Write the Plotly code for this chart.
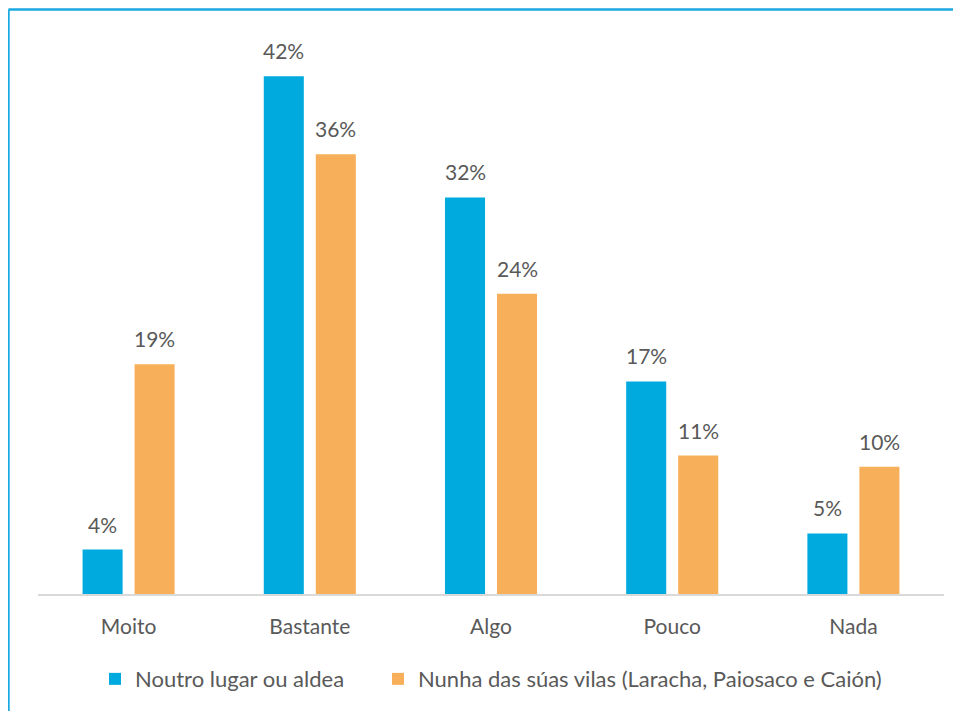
import plotly.graph_objects as go

categories = ["Moito", "Bastante", "Algo", "Pouco", "Nada"]
series_names = ["Noutro lugar ou aldea", "Nunha das súas vilas (Laracha, Paiosaco e Caión)"]
values_a = [0.036, 0.419, 0.321, 0.172, 0.049]
values_b = [0.186, 0.356, 0.243, 0.112, 0.103]
colors = ["#00AADF", "#F8AF59"]

FONT = "Lato, 'Open Sans', sans-serif"
TXT = "#595959"
FS = 21

fig = go.Figure()
for name, vals, col, lg in zip(series_names, [values_a, values_b], colors, ["legend", "legend2"]):
    fig.add_trace(go.Bar(x=categories, y=vals, name=name, legend=lg,
                         marker=dict(color=col, line=dict(width=0))))

annotations = []
for vals, shift in [(values_a, -26), (values_b, 26)]:
    for c, v in zip(categories, vals):
        annotations.append(dict(x=c, y=v, xref="x", yref="y", text=f"{round(v*100):.0f}%",
                                showarrow=False, xshift=shift, yshift=11, yanchor="bottom",
                                font=dict(family=FONT, size=FS, color=TXT)))

leg_common = dict(orientation="h", xanchor="left", y=-0.153, yanchor="middle",
                  font=dict(family=FONT, size=22, color=TXT), itemwidth=30,
                  bgcolor="rgba(0,0,0,0)")

fig.update_layout(
    width=961, height=711,
    margin=dict(l=30, r=25, t=30, b=125),
    paper_bgcolor="white", plot_bgcolor="white",
    barmode="group", bargap=0.426, bargroupgap=0.23,
    showlegend=True,
    legend=dict(x=(87 - 30) / 906, **leg_common),
    legend2=dict(x=(370 - 30) / 906, **leg_common),
    xaxis=dict(showline=True, linecolor="#D9D9D9", linewidth=1.5, ticks="outside", ticklen=13,
               tickcolor="rgba(0,0,0,0)", tickfont=dict(family=FONT, size=FS, color=TXT),
               showgrid=False, zeroline=False),
    yaxis=dict(range=[0, 0.45], visible=False, showgrid=False, zeroline=False),
    annotations=annotations,
    shapes=[
        dict(type="line", xref="paper", yref="paper", x0=-0.0326, x1=1.2, y0=1.0513, y1=1.0513,
             line=dict(color="#1AA9E0", width=2.5)),
        dict(type="line", xref="paper", yref="paper", x0=-0.0326, x1=-0.0326, y0=1.0513, y1=-0.3,
             line=dict(color="#1AA9E0", width=2.5)),
    ],
)

fig.write_html("out.html")
